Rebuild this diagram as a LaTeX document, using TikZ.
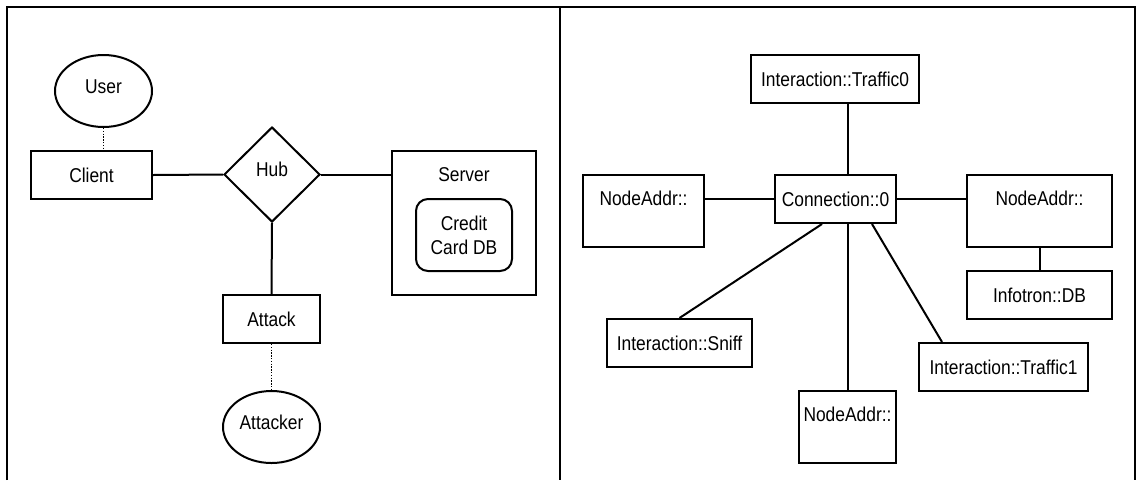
\documentclass[tikz,border=0pt]{standalone}
\usepackage{fontspec}
\setmainfont{Liberation Sans}[FakeStretch=0.87]
\usetikzlibrary{shapes.geometric}
\begin{document}
\begin{tikzpicture}[x=1pt,y=-1pt,
  every node/.style={font=\fontsize{20}{24}\selectfont, inner sep=0pt, line width=2pt},
  box/.style={draw, rectangle, minimum height=48pt},
  tallbox/.style={draw, rectangle, text height=30.7pt, text depth=41.3pt},
  oval/.style={draw, ellipse, minimum width=97pt, minimum height=72pt, text height=14.5pt, text depth=10pt},
  link/.style={line width=2pt},
  dotlink/.style={line width=1.2pt, dash pattern=on 1.3pt off 1.5pt},
  frame/.style={line width=2.5pt}]
\useasboundingbox (0,0) rectangle (1139,480);
% frames
\draw[frame] (7,480) -- (7,7) -- (1135,7) -- (1135,480);
\draw[frame] (560,7) -- (560,480);
% left panel
\node[oval] (user) at (103.5,91) {User};
\node[box, minimum width=121pt] (client) at (91.5,175) {Client};
\node[draw, diamond, minimum width=96pt, minimum height=95pt, text height=14.5pt, text depth=10pt] (hub) at (272,174.5) {Hub};
\node[draw, rectangle, minimum width=144pt, text height=30.7pt, text depth=113.3pt] (server) at (464,223) {Server};
\node[draw, rectangle, rounded corners=12pt, minimum width=96pt, minimum height=72pt, align=center] (ccdb) at (464,235) {Credit\\Card DB};
\node[box, minimum width=97pt] (attack) at (271.5,319) {Attack};
\node[oval] (attacker) at (271.5,427) {Attacker};
\draw[dotlink] (user.south) -- (user.south |- client.north);
\draw[link] (client.east) -- (hub.west);
\draw[link] (hub.east) -- (hub.east -| server.west);
\draw[link] (hub.south) -- (attack.north);
\draw[dotlink] (attack.south) -- (attacker.north);
% right panel
\node[box, minimum width=168pt] (t0) at (835,79) {Interaction::Traffic0};
\node[box, minimum width=121pt] (conn) at (835.5,199) {Connection::0};
\node[tallbox, minimum width=121pt] (nl) at (643.5,211) {NodeAddr::};
\node[tallbox, minimum width=145pt] (nr) at (1039.5,211) {NodeAddr::};
\node[box, minimum width=145pt] (db) at (1039.5,295) {Infotron::DB};
\node[box, minimum width=145pt] (sniff) at (679.5,343) {Interaction::Sniff};
\node[box, minimum width=169pt] (t1) at (1003.5,367) {Interaction::Traffic1};
\node[tallbox, minimum width=97pt] (nb) at (847.5,427) {NodeAddr::};
\draw[link] (nb.north |- t0.south) -- (nb.north |- conn.north);
\draw[link] (conn.west) -- (conn.west -| nl.east);
\draw[link] (conn.east) -- (conn.east -| nr.west);
\draw[link] (nr.south) -- (db.north);
\draw[link] ([xshift=-13.5pt]conn.south) -- (sniff.north);
\draw[link] ([xshift=36.5pt]conn.south) -- ([xshift=24pt]t1.north west);
\draw[link] (nb.north |- conn.south) -- (nb.north);
\end{tikzpicture}
\end{document}
